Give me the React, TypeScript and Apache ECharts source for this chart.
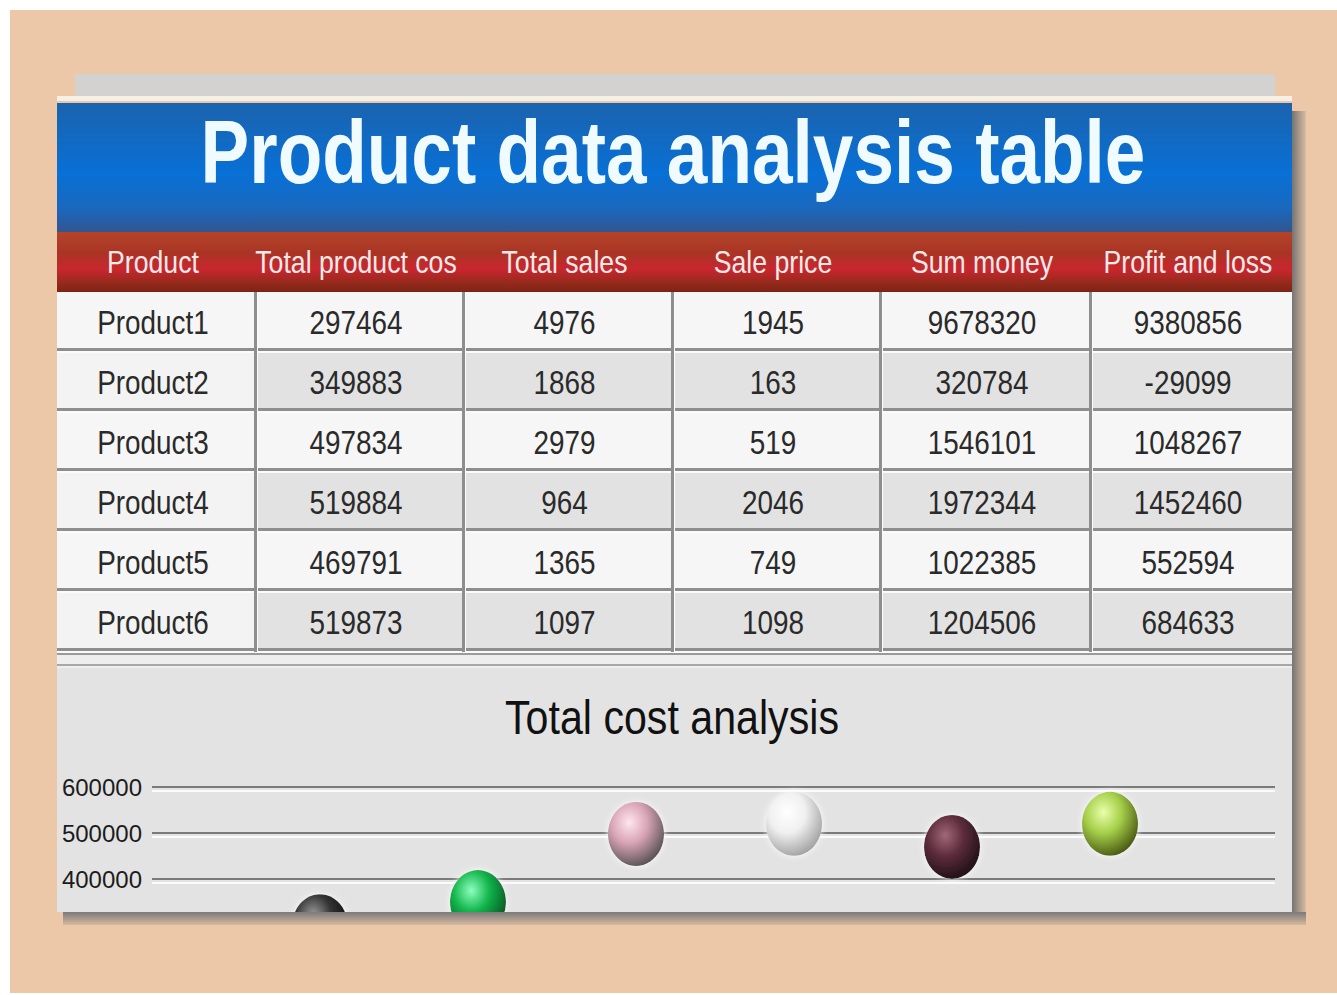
import React, { useEffect, useRef } from 'react';
import * as echarts from 'echarts';

const mainTitle = 'Product data analysis table';
const chartTitle = 'Total cost analysis';
const headers = ['Product', 'Total product cos', 'Total sales', 'Sale price', 'Sum money', 'Profit and loss'];
const products = ['Product1', 'Product2', 'Product3', 'Product4', 'Product5', 'Product6'];
const totalCost = [297464, 349883, 497834, 519884, 469791, 519873];
const totalSales = [4976, 1868, 2979, 964, 1365, 1097];
const salePrice = [1945, 163, 519, 2046, 749, 1098];
const sumMoney = [9678320, 320784, 1546101, 1972344, 1022385, 1204506];
const profitLoss = [9380856, -29099, 1048267, 1452460, 552594, 684633];
const yTickLabels = [400000, 500000, 600000];
const ballShades = [
  ['#9a9a9a', '#333333', '#080808'],
  ['#8dffbf', '#12b64c', '#084f22'],
  ['#ffe6ef', '#d8a4b6', '#555052'],
  ['#ffffff', '#f0f0f0', '#a0a0a0'],
  ['#a06878', '#5e2c3c', '#1c1014'],
  ['#eaffaa', '#a6d04a', '#485610'],
];

const FONT = '"Liberation Sans", Arial, sans-serif';
const colX = [57, 255, 463, 672, 880, 1090, 1292];
const CARD_L = 57;
const CARD_R = 1292;
const BLUE_T = 103;
const HEAD_T = 232;
const ROW_T = 292;
const ROW_H = 60;
const CHART_T = 668;
const CARD_B = 912;

function txt(text: string, x: number, y: number, size: number, fill: string, sx: number, weight = 'normal', z = 3) {
  return {
    type: 'text',
    x,
    y,
    z,
    scaleX: sx,
    scaleY: 1,
    style: {
      text,
      x: 0,
      y: 0,
      fill,
      font: `${weight} ${size}px ${FONT}`,
      align: 'center',
      verticalAlign: 'middle',
      textAlign: 'center',
      textVerticalAlign: 'middle',
    },
  };
}

function rect(x: number, y: number, w: number, h: number, fill: any, z = 0) {
  return { type: 'rect', z, shape: { x, y, width: w, height: h }, style: { fill } };
}

function buildGraphics() {
  const els: any[] = [];
  const W = CARD_R - CARD_L;
  els.push(rect(10, 10, 1327, 983, '#ecc8a9', 0));
  els.push(rect(75, 74, 1200, 22, '#d3d2d0', 0));
  els.push(rect(57, 96, 1235, 5, '#f6efe6', 0));
  els.push(
    rect(CARD_R, BLUE_T + 8, 14, CARD_B - BLUE_T - 8, new echarts.graphic.LinearGradient(0, 0, 1, 0, [
      { offset: 0, color: '#747474' },
      { offset: 1, color: '#d9bca2' },
    ]), 0)
  );
  els.push(
    rect(CARD_L, BLUE_T, W, HEAD_T - BLUE_T, new echarts.graphic.LinearGradient(0, 0, 0, 1, [
      { offset: 0, color: '#1b63ae' },
      { offset: 0.55, color: '#0870d6' },
      { offset: 0.82, color: '#1a68bd' },
      { offset: 1, color: '#33558f' },
    ]), 1)
  );
  els.push(txt(mainTitle, 673, 152, 89, '#f0fbff', 0.82, 'bold', 3));
  els.push(
    rect(CARD_L, HEAD_T, W, ROW_T - HEAD_T, new echarts.graphic.LinearGradient(0, 0, 0, 1, [
      { offset: 0, color: '#b5442a' },
      { offset: 0.35, color: '#a93424' },
      { offset: 0.62, color: '#c9262e' },
      { offset: 0.85, color: '#952a1c' },
      { offset: 1, color: '#7c2316' },
    ]), 1)
  );
  headers.forEach((h, j) => {
    els.push(txt(h, (colX[j] + colX[j + 1]) / 2 - 3, 262, 31, '#f7e9e9', 0.86, 'normal', 3));
  });
  const rowsData = [products, totalCost, totalSales, salePrice, sumMoney, profitLoss];
  for (let i = 0; i < products.length; i++) {
    const y = ROW_T + i * ROW_H;
    for (let j = 0; j < 6; j++) {
      const fill = i % 2 === 1 && j > 0 ? '#e2e2e2' : j === 0 && i % 2 === 1 ? '#f3f3f3' : '#f6f6f6';
      els.push(rect(colX[j], y, colX[j + 1] - colX[j], ROW_H, fill, 1));
      const v = rowsData[j][i];
      els.push(txt(String(v), (colX[j] + colX[j + 1]) / 2 - 3, y + 31, 34, '#2a2a2a', 0.82, 'normal', 3));
    }
  }
  for (let i = 1; i <= products.length; i++) {
    const y = ROW_T + i * ROW_H;
    els.push(rect(CARD_L, y - 4, W, 3, '#8e8e8e', 2));
    els.push(rect(CARD_L, y - 1, W, 2, '#fbfbfb', 2));
  }
  for (let j = 1; j < 6; j++) {
    els.push(rect(colX[j] - 1, ROW_T, 3, ROW_H * products.length, '#8e8e8e', 2));
    els.push(rect(colX[j] + 2, ROW_T, 1, ROW_H * products.length, '#fbfbfb', 2));
  }
  els.push(rect(CARD_L, 652, W, CHART_T - 652, '#eeeeee', 1));
  els.push(rect(CARD_L, 653, W, 2, '#9a9a9a', 2));
  els.push(rect(CARD_L, 664, W, 2, '#a8a8a8', 2));
  els.push(rect(CARD_L, CHART_T, W, CARD_B - CHART_T, '#e3e3e3', 1));
  els.push(txt(chartTitle, 672, 717, 49, '#111111', 0.84, 'normal', 3));
  els.push(rect(10, CARD_B, 1327, 993 - CARD_B, '#ecc8a9', 20));
  els.push(rect(0, 993, 1337, 2, '#ffffff', 20));
  els.push(
    rect(CARD_L + 6, CARD_B, W + 8, 13, new echarts.graphic.LinearGradient(0, 0, 0, 1, [
      { offset: 0, color: '#7a7a7a' },
      { offset: 1, color: '#d6b89e' },
    ]), 21)
  );
  return els;
}

export default function App() {
  const ref = useRef<HTMLDivElement>(null);
  useEffect(() => {
    if (!ref.current) return;
    const chart = echarts.init(ref.current, undefined, { renderer: 'svg' });
    const data = totalCost.map((v, i) => {
      const s = ballShades[i];
      return {
        name: products[i],
        value: [i, v],
        itemStyle: {
          opacity: 1,
          color: new echarts.graphic.RadialGradient(0.38, 0.32, 0.72, [
            { offset: 0, color: s[0] },
            { offset: 0.45, color: s[1] },
            { offset: 1, color: s[2] },
          ]),
          shadowBlur: 6,
          shadowColor: 'rgba(255,255,255,0.9)',
        },
      };
    });
    const yBase = {
      type: 'value',
      min: 200000,
      max: 600000,
      interval: 100000,
      axisLine: { show: false },
      axisTick: { show: false },
    };
    chart.setOption({
      animation: false,
      backgroundColor: '#ffffff',
      graphic: { elements: buildGraphics() },
      grid: [
        { left: 152, right: 62, top: 787, bottom: 24 },
        { left: 152, right: 62, top: 791, bottom: 20 },
      ],
      xAxis: [
        { type: 'value', gridIndex: 0, min: -1.063, max: 6.044, show: false },
        { type: 'value', gridIndex: 1, min: -1.063, max: 6.044, show: false },
      ],
      yAxis: [
        {
          ...yBase,
          gridIndex: 0,
          z: 8,
          axisLabel: {
            margin: 10,
            fontFamily: FONT,
            fontSize: 24,
            color: '#1c1c1c',
            formatter: (v: number) => (yTickLabels.indexOf(v) >= 0 ? String(v) : ''),
          },
          splitLine: {
            show: true,
            lineStyle: { color: '#7a7a7a', width: 2, type: 'solid', opacity: 1 },
          },
        },
        {
          ...yBase,
          gridIndex: 1,
          z: 7,
          axisLabel: { show: false },
          splitLine: {
            show: true,
            lineStyle: { color: '#fbfbfb', width: 2, type: 'solid', opacity: 1 },
          },
        },
      ],
      series: [
        {
          type: 'scatter',
          xAxisIndex: 0,
          yAxisIndex: 0,
          z: 10,
          symbol: 'circle',
          symbolSize: [56, 64],
          itemStyle: { opacity: 1 },
          data,
        },
      ],
    });
    return () => chart.dispose();
  }, []);
  return <div ref={ref} style={{ position: 'absolute', left: 0, top: 0, width: 1337, height: 995 }} />;
}
